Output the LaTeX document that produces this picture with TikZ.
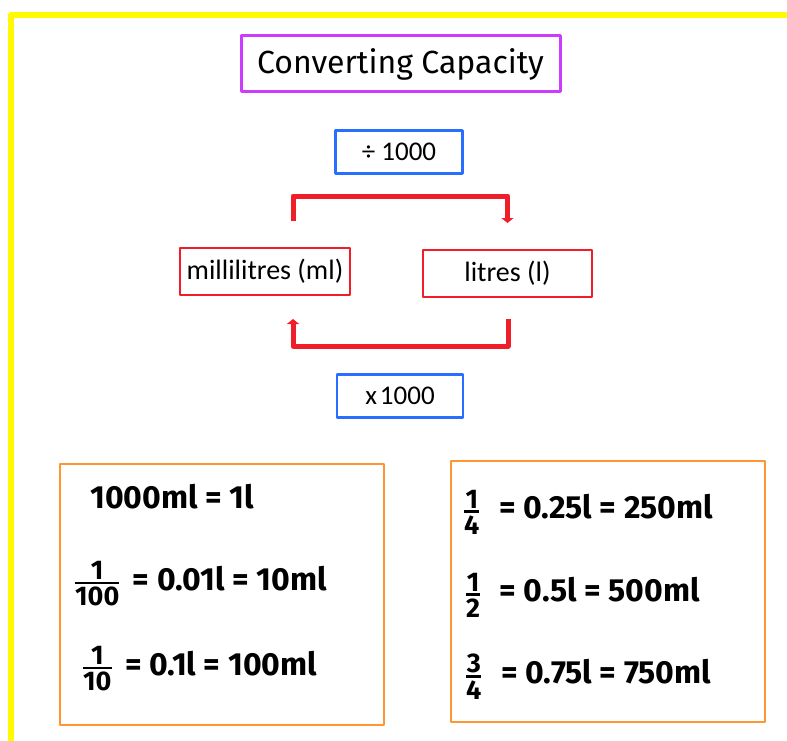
\documentclass[tikz,border=0pt]{standalone}
\usepackage{fontspec}
\setmainfont{Fira Sans}
\newfontfamily\calfont{Carlito}
\usetikzlibrary{arrows.meta}
\definecolor{framey}{RGB}{255,250,0}
\definecolor{titlev}{RGB}{204,60,255}
\definecolor{boxblue}{RGB}{40,110,255}
\definecolor{boxred}{RGB}{240,30,40}
\definecolor{boxorange}{RGB}{255,150,50}
\newcommand{\fsz}{\fontsize{27}{27}\selectfont\bfseries}
\newcommand{\frc}[2]{$\vcenter{\halign{\hfil##\hfil\cr \fsz #1\cr\noalign{\kern2pt\hrule height 2.5pt\kern3pt}\fsz #2\cr}}$\hspace{6pt}}
\tikzset{
  unitbox/.style={draw=boxred, line width=2, minimum width=170, minimum height=47, font=\calfont\fontsize{28}{28}\selectfont},
  opbox/.style={draw=boxblue, line width=2.5, minimum width=127, minimum height=43, font=\calfont\fontsize{27}{27}\selectfont},
  card/.style={draw=boxorange, line width=2.5},
  fact/.style={anchor=west, inner sep=0, font=\bfseries\fontsize{32}{32}\selectfont},
  conv/.style={draw=boxred, line width=5, ->, >={Triangle[length=5pt,width=12pt]}},
}
\begin{document}
\begin{tikzpicture}[x=1pt, y=-1pt, line join=round]
	\useasboundingbox (0,0) rectangle (787,741);
	\draw[framey, line width=6] (11,744) -- (11,15) -- (790,15);
	% titel
	\node[draw=titlev, line width=3, minimum width=319, minimum height=56, font=\fontsize{32}{32}\selectfont] (title) at (400.5,64) {Converting Capacity};
	% einheiten und rechenwege
	\node[opbox] (divbox) at (399,152) {÷ 1000};
	\node[unitbox] (ml) at (265,271.5) {millilitres (ml)};
	\node[unitbox, minimum width=169] (lit) at (507.5,273.5) {litres (l)};
	\node[opbox, minimum width=126] (mulbox) at (400,396) {x\kern3pt 1000};
	\draw[conv] ([shift={(28,-26)}]ml.north) -- ++(0,-25) -| ([shift={(0,-26)}]lit.north);
	\draw[conv] ([shift={(0.5,21)}]lit.south) -- ++(0,27) -| ([shift={(28,23)}]ml.south);
	% merkkarten
	\node[card, minimum width=324, minimum height=261] (leftcard) at (222,594.5) {};
	\node[card, minimum width=314, minimum height=261] (rightcard) at (608,591.5) {};
	\node[fact] (l1) at (90,497) {1000ml = 1l};
	\node[fact] (l2) at (75,584) {\frc{1}{100} = 0.01l = 10ml};
	\node[fact] (l3) at (83,669) {\frc{1}{10} = 0.1l = 100ml};
	\node[fact] (r1) at (464,512) {\frc{1}{4}\hspace{6pt} = 0.25l = 250ml};
	\node[fact] (r2) at (466,595) {\frc{1}{2}\hspace{6pt} = 0.5l = 500ml};
	\node[fact] (r3) at (466,677) {\frc{3}{4}\hspace{6pt} = 0.75l = 750ml};
\end{tikzpicture}
\end{document}
